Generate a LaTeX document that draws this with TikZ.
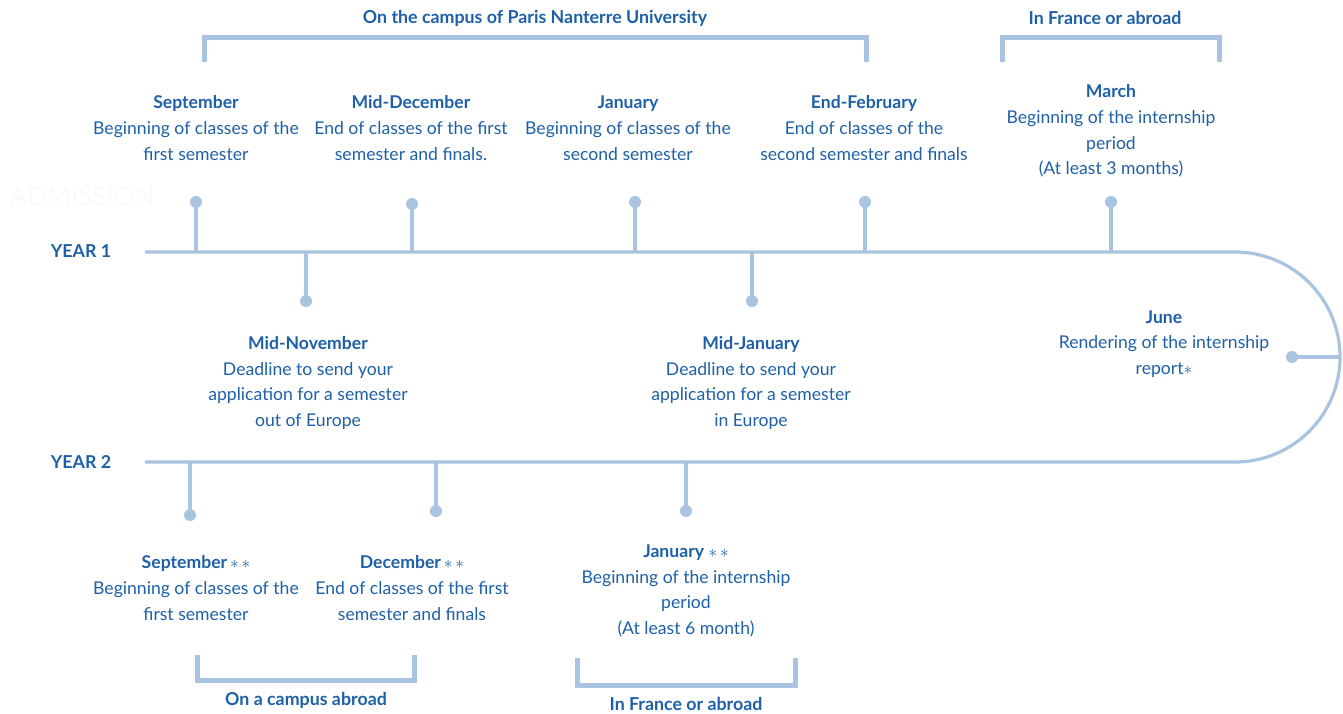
\documentclass[tikz,border=0pt]{standalone}
\usepackage{fontspec}
\setmainfont{Lato}
\definecolor{tlblue}{RGB}{168,196,224}
\definecolor{txblue}{RGB}{30,96,168}
\newcommand{\tstar}{\ensuremath{\ast}}
\newcommand{\tstars}{\ensuremath{\ast\,\ast}}
\begin{document}
\begin{tikzpicture}[x=1pt,y=-1pt,
		tl/.style={draw=tlblue,line width=3.2pt},
		brk/.style={draw=tlblue,line width=5pt},
		dot/.style={fill=tlblue},
		lbl/.style={text=txblue,align=center,inner sep=0pt,font=\fontsize{17.6}{25.8}\selectfont},
		hd/.style={text=txblue,inner sep=0pt,font=\fontsize{17.8}{20}\selectfont\bfseries}]
			\useasboundingbox (0,0) rectangle (1343,713);
			% timeline
			\coordinate (y1s) at (145,252);
			\coordinate (y1e) at (1235,252);
			\coordinate (y2s) at (145,462);
			\coordinate (y2e) at (1235,462);
			\coordinate (jun) at (1292,357);
			\coordinate (junr) at (1340,357);
			% dots, year 1
			\coordinate (sep1) at (196,202);
			\coordinate (dec1) at (412,204);
			\coordinate (jan1) at (635,202);
			\coordinate (feb1) at (865,202);
			\coordinate (mar1) at (1111,202);
			\coordinate (nov1) at (306,301);
			\coordinate (mjan1) at (752,301);
			% dots, year 2
			\coordinate (sep2) at (190,515);
			\coordinate (dec2) at (436,511);
			\coordinate (jan2) at (686,511);
			\draw[tl] (y1s) to (y1e) arc (-90:90:105) to (y2s);
			\draw[tl] (jun) to (junr);
			\draw[tl] (sep1) to (sep1 |- y1s);
			\draw[tl] (dec1) to (dec1 |- y1s);
			\draw[tl] (jan1) to (jan1 |- y1s);
			\draw[tl] (feb1) to (feb1 |- y1s);
			\draw[tl] (mar1) to (mar1 |- y1s);
			\draw[tl] (nov1) to (nov1 |- y1s);
			\draw[tl] (mjan1) to (mjan1 |- y1s);
			\draw[tl] (sep2) to (sep2 |- y2s);
			\draw[tl] (dec2) to (dec2 |- y2s);
			\draw[tl] (jan2) to (jan2 |- y2s);
			\foreach \d in {sep1,dec1,jan1,feb1,mar1,nov1,mjan1,sep2,dec2,jan2,jun}
				\fill[dot] (\d) circle (6);
			% brackets
			\draw[brk] (204,62) to (204,37) to (866,37) to (866,62);
			\draw[brk] (1002,62) to (1002,37) to (1219,37) to (1219,62);
			\draw[brk] (197,655) to (197,680) to (414,680) to (414,655);
			\draw[brk] (577,658) to (577,685) to (795,685) to (795,658);
			\node[hd] (campus) at (535,18) {On the campus of Paris Nanterre University};
			\node[hd] (abroad1) at (1105,18) {In France or abroad};
			\node[hd] (campus2) at (306,700) {On a campus abroad};
			\node[hd] (abroad2) at (686,704) {In France or abroad};
			% labels
			\node[text=white!96!gray,font=\fontsize{26}{30}\selectfont] (adm) at (82,196) {ADMISSION};
			\node[hd] (year1) at (81,251) {YEAR 1};
			\node[hd] (year2) at (81,462) {YEAR 2};
			\node[lbl] (tsep1) at (196,128) {\textbf{September}\\Beginning of classes of the\\first semester};
			\node[lbl] (tdec1) at (411,128) {\textbf{Mid-December}\\End of classes of the first\\semester and finals.};
			\node[lbl] (tjan1) at (628,128) {\textbf{January}\\Beginning of classes of the\\second semester};
			\node[lbl] (tfeb1) at (864,128) {\textbf{End-February}\\End of classes of the\\second semester and finals};
			\node[lbl] (tmar1) at (1111,131) {\textbf{March}\\Beginning of the internship\\period\\(At least 3 months)};
			\node[lbl] (tnov1) at (308,383) {\textbf{Mid-November}\\Deadline to send your\\application for a semester\\out of Europe};
			\node[lbl] (tmjan1) at (751,383) {\textbf{Mid-January}\\Deadline to send your\\application for a semester\\in Europe};
			\node[lbl] (tjun) at (1164,344) {\textbf{June}\\Rendering of the internship\\report\tstar};
			\node[lbl] (tsep2) at (196,588) {\textbf{September}\,\tstars\\Beginning of classes of the\\first semester};
			\node[lbl] (tdec2) at (412,588) {\textbf{December}\,\tstars\\End of classes of the first\\semester and finals};
			\node[lbl] (tjan2) at (686,591) {\textbf{January} \tstars\\Beginning of the internship\\period\\(At least 6 month)};
		\end{tikzpicture}
\end{document}
